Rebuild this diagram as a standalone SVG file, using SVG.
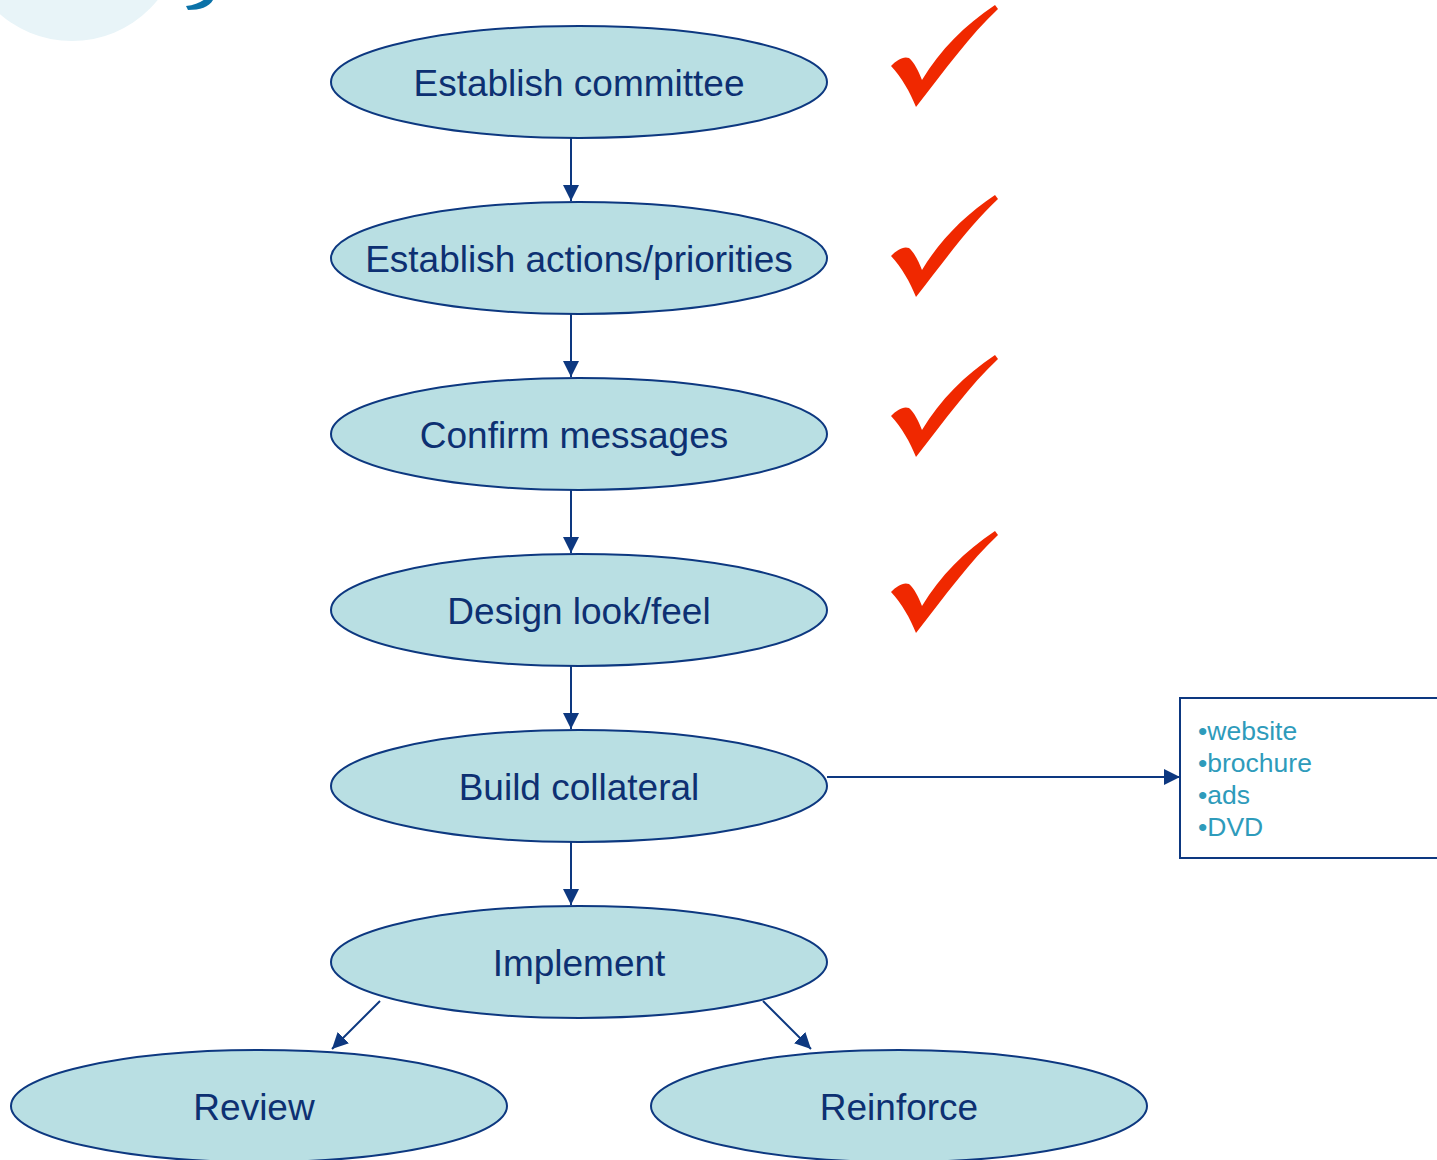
<svg xmlns="http://www.w3.org/2000/svg" width="1437" height="1160" viewBox="0 0 1437 1160">
<style>
.node ellipse{fill:#b9dfe3;stroke:#0d3880;stroke-width:2}
.lbl{font-family:"Liberation Sans",Arial,sans-serif;font-size:37px;fill:#0d3072;text-anchor:middle}
.edge{stroke:#0d3880;stroke-width:2;fill:none}
.bul{font-family:"Liberation Sans",Arial,sans-serif;font-size:26.5px;fill:#2e9bbb}
.chk{fill:#f02800}
</style>
<defs>
<marker id="ah" viewBox="0 0 10 10" refX="10" refY="5" markerWidth="16" markerHeight="16" markerUnits="userSpaceOnUse" orient="auto">
<path d="M0,0 L10,5 L0,10 Z" fill="#0d3880"/>
</marker>
<path id="check" d="M891,66 C897,60 903,56 909,58 C914,62 919,72 922,80 C940,50 965,25 995,5 L998,9 C970,35 945,70 916,107 C910,92 902,78 891,66 Z"/>
</defs>
<rect width="1437" height="1160" fill="#ffffff"/>
<circle cx="72" cy="-69" r="110" fill="#e8f4f8"/>
<path d="M186,6 C195,5 202,2 206,-2 L213,0 C209,7 200,10 188,10 Z" fill="#0b72a8"/>
<g id="checks" class="chk">
<use href="#check"/>
<use href="#check" transform="translate(0,190)"/>
<use href="#check" transform="translate(0,350)"/>
<use href="#check" transform="translate(0,526)"/>
</g>
<g id="connectors">
<line class="edge" x1="571" y1="138" x2="571" y2="201" marker-end="url(#ah)"/>
<line class="edge" x1="571" y1="314" x2="571" y2="377" marker-end="url(#ah)"/>
<line class="edge" x1="571" y1="490" x2="571" y2="553" marker-end="url(#ah)"/>
<line class="edge" x1="571" y1="666" x2="571" y2="729" marker-end="url(#ah)"/>
<line class="edge" x1="571" y1="842" x2="571" y2="905" marker-end="url(#ah)"/>
<line class="edge" x1="827" y1="777" x2="1180" y2="777" marker-end="url(#ah)"/>
<line class="edge" x1="380" y1="1001" x2="332" y2="1049" marker-end="url(#ah)"/>
<line class="edge" x1="763" y1="1001" x2="811" y2="1049" marker-end="url(#ah)"/>
</g>
<g id="n1" class="node"><ellipse cx="579" cy="82" rx="248" ry="56"/><text class="lbl" x="579" y="96">Establish committee</text></g>
<g id="n2" class="node"><ellipse cx="579" cy="258" rx="248" ry="56"/><text class="lbl" x="579" y="272">Establish actions/priorities</text></g>
<g id="n3" class="node"><ellipse cx="579" cy="434" rx="248" ry="56"/><text class="lbl" x="574" y="448">Confirm messages</text></g>
<g id="n4" class="node"><ellipse cx="579" cy="610" rx="248" ry="56"/><text class="lbl" x="579" y="624">Design look/feel</text></g>
<g id="n5" class="node"><ellipse cx="579" cy="786" rx="248" ry="56"/><text class="lbl" x="579" y="800">Build collateral</text></g>
<g id="n6" class="node"><ellipse cx="579" cy="962" rx="248" ry="56"/><text class="lbl" x="579" y="976">Implement</text></g>
<g id="n7" class="node"><ellipse cx="259" cy="1106" rx="248" ry="56"/><text class="lbl" x="254" y="1120">Review</text></g>
<g id="n8" class="node"><ellipse cx="899" cy="1106" rx="248" ry="56"/><text class="lbl" x="899" y="1120">Reinforce</text></g>
<g id="list">
<rect x="1180" y="698" width="270" height="160" fill="#ffffff" stroke="#0d3880" stroke-width="2"/>
<text class="bul" x="1198" y="740">•website</text>
<text class="bul" x="1198" y="772">•brochure</text>
<text class="bul" x="1198" y="804">•ads</text>
<text class="bul" x="1198" y="836">•DVD</text>
</g>
</svg>
